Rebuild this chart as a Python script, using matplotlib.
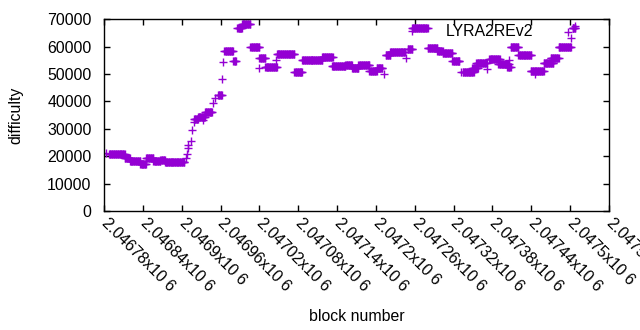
import numpy as np
import matplotlib
matplotlib.use("Agg")
import matplotlib.pyplot as plt

# Runs of blocks (first block, last block) sharing (about) the same difficulty
run_start = [2046783, 2046788, 2046812, 2046820, 2046836, 2046845, 2046856, 2046867, 2046874, 2046885,
             2046907, 2046908, 2046909, 2046910, 2046914, 2046916, 2046919, 2046919, 2046925, 2046933,
             2046936, 2046948, 2046952, 2046956, 2046963, 2046964, 2046966, 2046980, 2046986, 2046990,
             2046993, 2047006, 2047020, 2047020, 2047029, 2047046, 2047047, 2047074, 2047086, 2047102,
             2047117, 2047132, 2047133, 2047153, 2047163, 2047173, 2047190, 2047201, 2047212, 2047215,
             2047222, 2047247, 2047249, 2047255, 2047256, 2047280, 2047295, 2047303, 2047318, 2047331,
             2047334, 2047349, 2047355, 2047371, 2047375, 2047389, 2047405, 2047403, 2047408, 2047420,
             2047439, 2047445, 2047459, 2047470, 2047482, 2047496, 2047501, 2047504, 2047505, 2047508]
run_end = [2046783, 2046812, 2046820, 2046836, 2046845, 2046856, 2046867, 2046874, 2046885, 2046904,
           2046907, 2046908, 2046909, 2046910, 2046914, 2046916, 2046919, 2046925, 2046936, 2046933,
           2046947, 2046948, 2046952, 2046962, 2046963, 2046964, 2046979, 2046984, 2046993, 2046990,
           2047006, 2047020, 2047020, 2047029, 2047047, 2047046, 2047074, 2047086, 2047102, 2047117,
           2047133, 2047132, 2047153, 2047163, 2047173, 2047190, 2047201, 2047210, 2047212, 2047222,
           2047245, 2047247, 2047256, 2047255, 2047280, 2047295, 2047303, 2047318, 2047329, 2047331,
           2047351, 2047357, 2047371, 2047371, 2047391, 2047405, 2047405, 2047408, 2047420, 2047440,
           2047459, 2047445, 2047474, 2047482, 2047501, 2047496, 2047501, 2047508, 2047505, 2047508]
run_difficulty = [21200, 20700, 19200, 18400, 17200, 19200, 18300, 18800, 18000, 17900,
                  19200, 20700, 22900, 24100, 25500, 29600, 32400, 33600, 34400, 33200,
                  36000, 39300, 41100, 42500, 48100, 54300, 58400, 54800, 66800, 66700,
                  68200, 60000, 52100, 56000, 52600, 55100, 57500, 50800, 55300, 55000,
                  56400, 52800, 52800, 53400, 52200, 53300, 51000, 52200, 50000, 57000,
                  58200, 56000, 59000, 65800, 67000, 59400, 58600, 57600, 54600, 50600,
                  50800, 52200, 54000, 51800, 55400, 53600, 55100, 52600, 59900, 56900,
                  51100, 49900, 53900, 56000, 59900, 65200, 63300, 66700, 67000, 67500]

x_ticks = [2046780 + 60 * i for i in range(14)]
x_tick_labels = ["%gx10 6" % (t / 1e6) for t in x_ticks]
y_ticks = [0, 10000, 20000, 30000, 40000, 50000, 60000, 70000]

# one point per block inside each run
blocks, diffs = [], []
for s, e, d in zip(run_start, run_end, run_difficulty):
    for b in range(s, e + 1):
        blocks.append(b)
        diffs.append(d)

plt.rcParams['font.family'] = ['Liberation Sans', 'DejaVu Sans']
plt.rcParams['font.size'] = 11.4

fig = plt.figure(figsize=(6.4, 3.3), dpi=100)
ax = fig.add_axes([104 / 640, 1 - 211 / 330, (609 - 104) / 640, (211 - 19.3) / 330])
ax.plot(blocks, diffs, linestyle='none', marker='+', markersize=5.2,
        markeredgewidth=1.0, color='#9400D3')

ax.set_xlim(2046780, 2047560)
ax.set_ylim(0, 70000)
ax.set_xticks(x_ticks)
ax.set_xticklabels(x_tick_labels, rotation=-45, ha='left', va='center',
                   rotation_mode='anchor')
ax.set_yticks(y_ticks)
ax.set_yticklabels([str(v) for v in y_ticks])
ax.tick_params(direction='in', length=4, width=1, top=True, right=True)
ax.tick_params(axis='y', pad=9)
ax.tick_params(axis='x', pad=7)
for sp in ax.spines.values():
    sp.set_linewidth(1)

ax.set_xlabel('block number', labelpad=11)
ax.set_ylabel('difficulty', labelpad=17)
ax.text(533 / 640, 1 - 32 / 330, 'LYRA2REv2', transform=fig.transFigure,
        ha='right', va='center')

fig.savefig('out.png', dpi=100)
